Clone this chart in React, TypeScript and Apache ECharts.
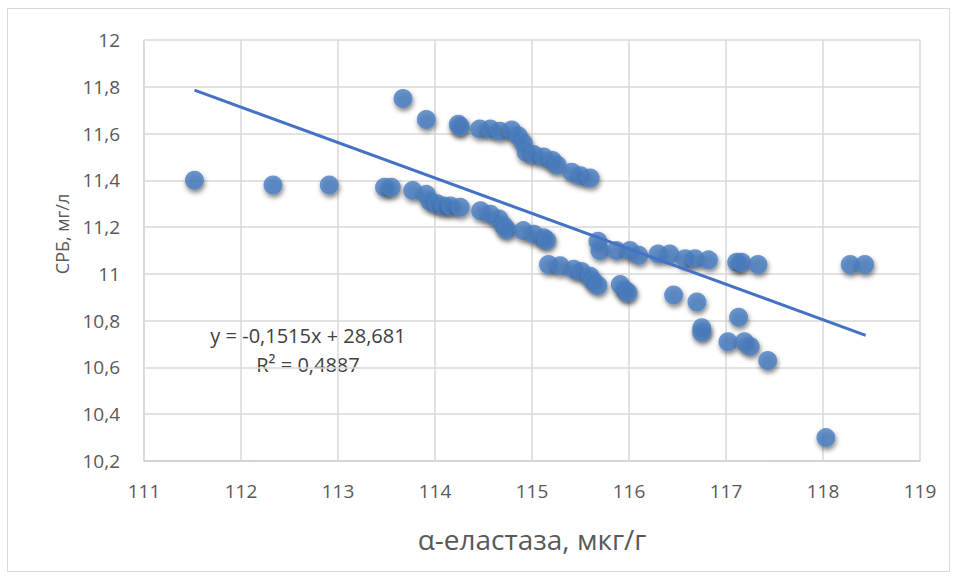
import { useEffect, useRef } from "react";
import * as echarts from "echarts";

// α-elastase (мкг/г) for each observation
const elastase = [
  111.52, 112.33, 112.91, 113.48, 113.55,
  113.67, 113.91, 114.24, 114.26, 114.46, 114.57, 114.67, 114.79, 114.86, 114.91,
  114.94, 115.02, 115.12, 115.21, 115.26, 115.41, 115.5, 115.6,
  113.77, 113.91, 113.95, 114.02, 114.09, 114.16, 114.26, 114.47, 114.57, 114.66,
  114.71, 114.74, 114.91, 115.02, 115.12, 115.15,
  115.17, 115.29, 115.43, 115.51, 115.6, 115.63, 115.68, 115.91, 115.96, 115.99,
  115.68, 115.7, 115.87, 116.01, 116.1, 116.3, 116.42, 116.58, 116.68, 116.82,
  117.11, 117.16, 117.33, 118.28, 118.43,
  116.46, 116.7, 116.75, 116.75, 117.13, 117.02, 117.19, 117.25, 117.43, 118.03,
];

// СРБ (мг/л) for the same observations
const crp = [
  11.4, 11.38, 11.38, 11.37, 11.37,
  11.75, 11.66, 11.64, 11.63, 11.62, 11.62, 11.61, 11.615, 11.59, 11.56,
  11.52, 11.51, 11.5, 11.485, 11.465, 11.435, 11.42, 11.41,
  11.357, 11.34, 11.31, 11.3, 11.29, 11.29, 11.285, 11.27, 11.255, 11.235,
  11.205, 11.19, 11.185, 11.17, 11.155, 11.145,
  11.04, 11.035, 11.02, 11.01, 10.99, 10.97, 10.95, 10.955, 10.93, 10.92,
  11.14, 11.1, 11.1, 11.1, 11.08, 11.085, 11.085, 11.065, 11.065, 11.06,
  11.05, 11.05, 11.04, 11.04, 11.04,
  10.91, 10.88, 10.77, 10.75, 10.815, 10.71, 10.71, 10.69, 10.63, 10.3,
];

// Linear trend: y = slope * x + intercept
const slope = -0.1515;
const intercept = 28.681;
const rSquared = 0.4887;
const trendRange = [111.52, 118.44];

const xTicks = { min: 111, max: 119, step: 1 };
const yTicks = { min: 10.2, max: 12, step: 0.2 };

const comma = (v: number, digits: number) =>
  String(Number(v.toFixed(digits))).replace(".", ",");

export default function App() {
  const ref = useRef<HTMLDivElement>(null);

  useEffect(() => {
    if (!ref.current) return;
    const chart = echarts.init(ref.current, null, { renderer: "svg" });

    const points = elastase.map((x, i) => [x, crp[i]]);
    const trend = trendRange.map((x) => [x, slope * x + intercept]);
    const font = "'Open Sans', 'Liberation Sans', sans-serif";
    const blue = "#4a7ec2";

    chart.setOption({
      animation: false,
      backgroundColor: "#ffffff",
      grid: { left: 144, right: 38, top: 40, bottom: 119 },
      xAxis: {
        type: "value",
        min: xTicks.min,
        max: xTicks.max,
        interval: xTicks.step,
        axisLine: { show: true, lineStyle: { color: "#d0d0d0", width: 1.5 } },
        axisTick: { show: false },
        splitLine: { show: true, lineStyle: { color: "#d9d9d9", width: 1.5 } },
        axisLabel: {
          color: "#595959",
          fontSize: 19,
          fontFamily: font,
          margin: 20,
          formatter: (v: number) => comma(v, 0),
        },
      },
      yAxis: {
        type: "value",
        min: yTicks.min,
        max: yTicks.max,
        interval: yTicks.step,
        axisLine: { show: true, lineStyle: { color: "#d9d9d9", width: 1.5 } },
        axisTick: { show: false },
        splitLine: { show: true, lineStyle: { color: "#d9d9d9", width: 1.5 } },
        axisLabel: {
          color: "#595959",
          fontSize: 19,
          fontFamily: font,
          margin: 24,
          formatter: (v: number) => comma(v, 1),
        },
      },
      series: [
        {
          type: "scatter",
          data: points,
          symbolSize: 19,
          itemStyle: {
            color: blue,
            shadowColor: "rgba(0,0,0,0.6)",
            shadowBlur: 5,
            shadowOffsetX: 1,
            shadowOffsetY: 3,
          },
          z: 2,
        },
        {
          type: "line",
          data: trend,
          symbol: "none",
          lineStyle: { color: "#4472c4", width: 3 },
          z: 3,
        },
      ],
      graphic: [
        {
          type: "rect",
          shape: { x: 7.5, y: 8.5, width: 942, height: 563 },
          style: { fill: "none", stroke: "#d9d9d9", lineWidth: 1 },
          silent: true,
        },
        {
          type: "text",
          x: 62,
          y: 234,
          rotation: Math.PI / 2,
          style: {
            text: "СРБ, мг/л",
            fill: "#595959",
            font: `18px ${font}`,
            align: "center",
            verticalAlign: "middle",
          },
        },
        {
          type: "text",
          x: 532,
          y: 539,
          style: {
            text: "α-еластаза, мкг/г",
            fill: "#595959",
            font: `28px ${font}`,
            align: "center",
            verticalAlign: "middle",
          },
        },
        {
          type: "text",
          x: 308,
          y: 335,
          style: {
            text: `y = ${comma(slope, 4)}x + ${comma(intercept, 3)}`,
            fill: "#404040",
            font: `20px ${font}`,
            align: "center",
            verticalAlign: "middle",
          },
        },
        {
          type: "text",
          x: 308,
          y: 364,
          style: {
            text: `R² = ${comma(rSquared, 4)}`,
            fill: "#404040",
            font: `20px ${font}`,
            align: "center",
            verticalAlign: "middle",
          },
        },
      ],
    });

    return () => chart.dispose();
  }, []);

  return (
    <div
      ref={ref}
      style={{ position: "fixed", left: 0, top: 0, width: 958, height: 580 }}
    />
  );
}
